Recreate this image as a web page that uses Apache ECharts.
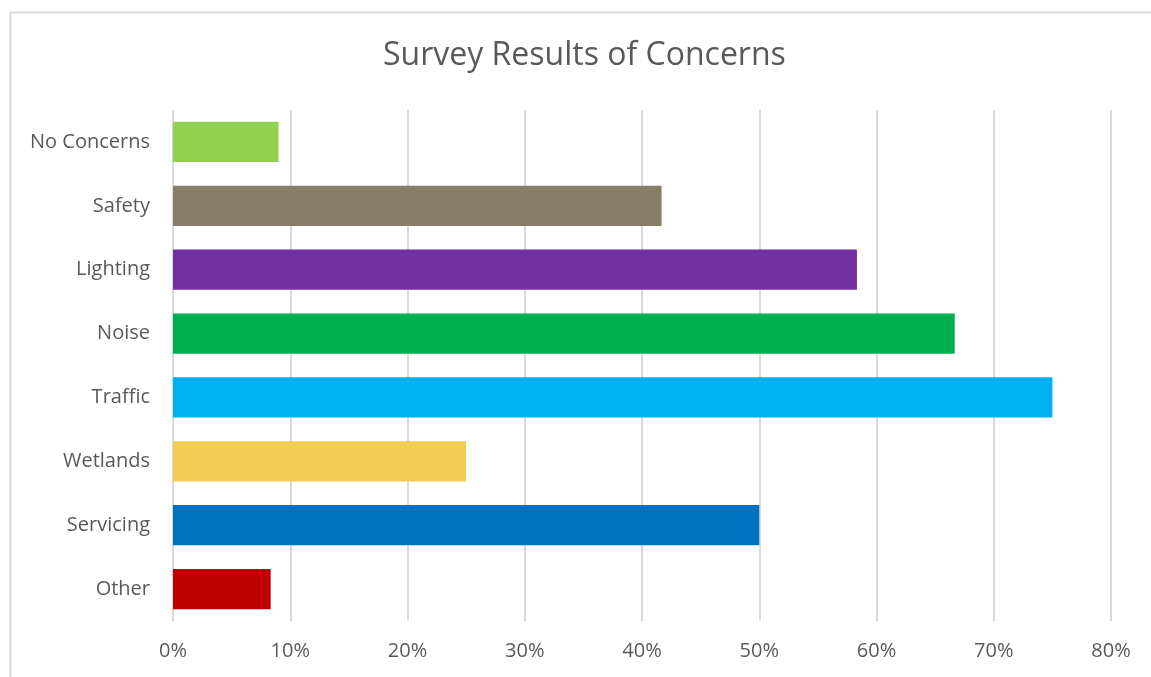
<!DOCTYPE html>
<html>
<head>
<meta charset="utf-8">
<script src="https://cdn.jsdelivr.net/npm/echarts@6/dist/echarts.min.js"></script>
<style>
html,body{margin:0;padding:0;background:#fff;}
#chart{width:1151px;height:677px;}
</style>
</head>
<body>
<div id="chart"></div>
<script>
const categories = ['No Concerns','Safety','Lighting','Noise','Traffic','Wetlands','Servicing','Other'];
const values = [9, 41.67, 58.33, 66.67, 75, 25, 50, 8.33];
const barColors = ['#92D050','#877D6B','#7030A0','#00B050','#00B0F0','#F2CB52','#0070C0','#C00000'];
const xTicks = { min: 0, max: 80, interval: 10 };

const chart = echarts.init(document.getElementById('chart'));
chart.setOption({
  animation: false,
  backgroundColor: '#fff',
  graphic: [{
    type: 'rect', left: 8, top: 10, silent: true,
    shape: { width: 1200, height: 700 },
    style: { fill: 'none', stroke: '#d9d9d9', lineWidth: 2 }
  }],
  title: {
    text: 'Survey Results of Concerns',
    left: 378, top: 35,
    textStyle: { fontFamily: 'Open Sans', fontSize: 32, fontWeight: 'normal', color: '#595959' }
  },
  grid: { left: 173, right: 40, top: 110, bottom: 56, containLabel: false },
  xAxis: {
    type: 'value', min: xTicks.min, max: xTicks.max, interval: xTicks.interval,
    axisLine: { show: false }, axisTick: { show: false },
    splitLine: { show: true, lineStyle: { color: '#d9d9d9', width: 2 } },
    axisLabel: { formatter: '{value}%', margin: 20, fontFamily: 'Open Sans', fontSize: 20, color: '#595959' }
  },
  yAxis: {
    type: 'category', data: categories, inverse: true,
    axisLine: { show: false }, axisTick: { show: false },
    axisLabel: { margin: 23, fontFamily: 'Open Sans', fontSize: 20, color: '#595959' }
  },
  series: [{
    type: 'bar',
    data: values.map((v, i) => ({ value: v, itemStyle: { color: barColors[i] } })),
    barCategoryGap: '37%'
  }]
});
</script>
</body>
</html>
